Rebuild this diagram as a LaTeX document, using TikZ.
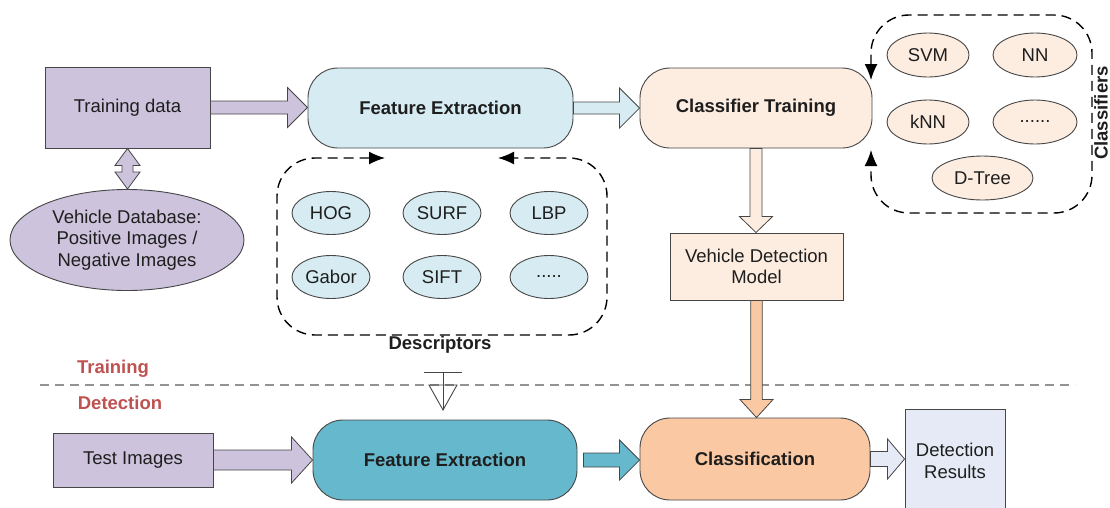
\documentclass[tikz,border=0pt]{standalone}
\usepackage{fontspec}
\setmainfont{Liberation Sans}
\usetikzlibrary{arrows.meta,shapes.geometric,calc}
\definecolor{lilacfill}{RGB}{205,195,220}
\definecolor{featfill}{RGB}{214,236,242}
\definecolor{featdark}{RGB}{102,184,205}
\definecolor{peachfill}{RGB}{253,236,224}
\definecolor{peachdark}{RGB}{250,201,163}
\definecolor{resultfill}{RGB}{229,234,246}
\definecolor{boxedge}{RGB}{70,70,70}
\definecolor{textgray}{RGB}{30,30,30}
\definecolor{phasered}{RGB}{190,82,80}

% horizontal block arrow: fill, from, to, half shaft, half head, head length
\newcommand{\hblockarrow}[6]{%
  \filldraw[blockarrow,fill=#1] let \p1=(#2), \p2=(#3) in
    (\x1,\y1+#4pt) -- (\x2-#6pt,\y1+#4pt) -- (\x2-#6pt,\y1+#5pt) -- (\x2,\y1)
    -- (\x2-#6pt,\y1-#5pt) -- (\x2-#6pt,\y1-#4pt) -- (\x1,\y1-#4pt) -- cycle;}
% downward block arrow, same arguments
\newcommand{\vblockarrow}[6]{%
  \filldraw[blockarrow,fill=#1] let \p1=(#2), \p2=(#3) in
    (\x1-#4pt,\y1) -- (\x1-#4pt,\y2+#6pt) -- (\x1-#5pt,\y2+#6pt) -- (\x1,\y2)
    -- (\x1+#5pt,\y2+#6pt) -- (\x1+#4pt,\y2+#6pt) -- (\x1+#4pt,\y1) -- cycle;}

\begin{document}
\begin{tikzpicture}[
  x=1pt,y=-1pt,
  font=\fontsize{18.5}{21.5}\selectfont,
  text=textgray,
  databox/.style={rectangle,draw=boxedge,line width=0.9pt,align=center,inner sep=2pt},
  procbox/.style={rectangle,rounded corners=30pt,draw=boxedge,line width=0.9pt,
    align=center,font=\fontsize{18.5}{21.5}\selectfont\bfseries},
  itembox/.style={ellipse,draw=boxedge,line width=0.9pt,inner sep=0pt,
    minimum width=78pt,minimum height=43pt},
  blockarrow/.style={draw=boxedge,line width=0.8pt,line join=miter},
  loopline/.style={draw=black,line width=1.4pt,dash pattern=on 10pt off 6pt,
    rounded corners=38pt},
  looptip/.style={{Latex[length=16pt,width=13pt]}-{Latex[length=16pt,width=13pt]}},
  phase/.style={font=\fontsize{18.5}{21.5}\selectfont\bfseries,text=phasered},
  sepline/.style={draw=gray!85,line width=1.8pt,dash pattern=on 9pt off 6pt},
  boldlabel/.style={font=\fontsize{18.5}{21.5}\selectfont\bfseries}
]
\useasboundingbox (0,0) rectangle (1110,507);

% -------------------------------------------------------------------------
% Training stage.
% -------------------------------------------------------------------------
\node[databox,fill=lilacfill,minimum width=165pt,minimum height=81pt] (train) at (127.5,107.5)
  {Training data};
\node[ellipse,draw=boxedge,line width=0.9pt,fill=lilacfill,minimum width=234pt,
  minimum height=101pt,inner sep=0pt,align=center] (vdb) at (127,240)
  {Vehicle Database:\\Positive Images /\\Negative Images};
\node[procbox,fill=featfill,minimum width=265pt,minimum height=80pt] (fe) at (440.5,108)
  {Feature Extraction};
\node[procbox,fill=peachfill,minimum width=232pt,minimum height=80pt] (ct) at (756,108)
  {Classifier Training};
\node[databox,fill=peachfill,minimum width=173pt,minimum height=67pt] (vdm) at (756.5,266.5)
  {Vehicle Detection\\Model};

% double arrow between the data and the image database
\filldraw[blockarrow,fill=lilacfill] let \p1=(train.south), \p2=(vdb.north) in
  (\x1-5.5pt,\y1-17pt) -- (\x1-12.5pt,\y1-17pt) -- (\x1,\y1) -- (\x1+12.5pt,\y1-17pt)
  -- (\x1+5.5pt,\y1-17pt) -- (\x1+5.5pt,\y2+17pt) -- (\x1+12.5pt,\y2+17pt) -- (\x1,\y2)
  -- (\x1-12.5pt,\y2+17pt) -- (\x1-5.5pt,\y2+17pt) -- cycle;

\hblockarrow{lilacfill}{train.east}{fe.west}{6.5}{20}{20}
\hblockarrow{featfill}{fe.east}{ct.west}{6}{20}{20}
\vblockarrow{peachfill}{ct.south}{vdm.north}{6}{16.5}{16}

% Descriptors feeding the feature extraction.
\node[itembox,fill=featfill] (hog) at (331,213) {HOG};
\node[itembox,fill=featfill] (surf) at (442,213) {SURF};
\node[itembox,fill=featfill] (lbp) at (549,213) {LBP};
\node[itembox,fill=featfill] (gabor) at (331,277) {Gabor};
\node[itembox,fill=featfill] (sift) at (442,277) {SIFT};
\node[itembox,fill=featfill] (dmore) at (549,277) {.....};
\draw[loopline,looptip] (385,158) -- (277,158) -- (277,335) -- (607,335)
  -- (607,158) -- (498,158);
\node[boldlabel] (desc) at (440,345) {Descriptors};

% Classifiers used by the classifier training.
\node[itembox,fill=peachfill,minimum width=82pt,minimum height=44pt] (svm) at (928,55) {SVM};
\node[itembox,fill=peachfill,minimum width=84pt,minimum height=44pt] (nn) at (1035,55) {NN};
\node[itembox,fill=peachfill,minimum width=82pt,minimum height=44pt] (knn) at (928,122) {kNN};
\node[itembox,fill=peachfill,minimum width=84pt,minimum height=44pt] (cmore) at (1035,122) {......};
\node[itembox,fill=peachfill,minimum width=101pt,minimum height=44pt] (dtree) at (982.5,178) {D-Tree};
\draw[loopline,looptip] (871,80) -- (871,15) -- (1092,15) -- (1092,213)
  -- (871,213) -- (871,150);
\node[boldlabel,rotate=90] (clabel) at (1101,113) {Classifiers};

% -------------------------------------------------------------------------
% Split between the two stages.
% -------------------------------------------------------------------------
\draw[sepline] (40,385) -- (1075,385);
\node[phase] (ptrain) at (113,369) {Training};
\node[phase] (pdetect) at (120,403) {Detection};

% -------------------------------------------------------------------------
% Detection stage.
% -------------------------------------------------------------------------
\node[databox,fill=lilacfill,minimum width=160pt,minimum height=54pt] (test) at (133,460)
  {Test Images};
\node[procbox,fill=featdark,minimum width=264pt,minimum height=80pt] (fe2) at (445,460)
  {Feature Extraction};
\node[procbox,fill=peachdark,minimum width=230pt,minimum height=82pt] (cls) at (755,459)
  {Classification};
\node[databox,fill=resultfill,minimum width=100pt,minimum height=104pt] (res) at (955,461)
  {Detection\\Results};

\hblockarrow{lilacfill}{test.east}{fe2.west}{10}{23}{21}
\hblockarrow{featdark}{$(fe2.east)+(6,0)$}{cls.west}{7}{20}{20}
\hblockarrow{resultfill}{cls.east}{res.west}{7.5}{20}{17}
\vblockarrow{peachdark}{vdm.south}{cls.north}{5.8}{16.5}{18}

% descriptors reused by the detection-side extraction
\coordinate (dtop) at (443,372);
\coordinate (dtip) at (443,410);
\draw[line width=0.9pt,draw=boxedge] ($(dtop)+(-19,0)$) -- ($(dtop)+(19,0)$);
\draw[line width=0.9pt,draw=boxedge] (dtop) -- (dtip);
\draw[line width=0.9pt,draw=boxedge,line join=miter] ($(dtip)+(-14,-25)$) -- (dtip)
  -- ($(dtip)+(14,-25)$) -- cycle;
\end{tikzpicture}
\end{document}
